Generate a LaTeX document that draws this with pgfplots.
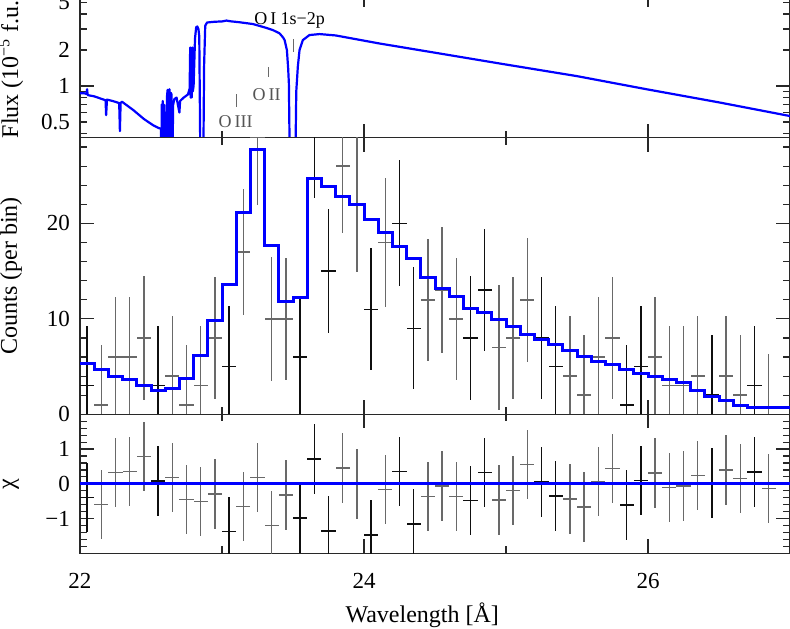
\documentclass[border=0pt]{standalone}
\usepackage{pgfplots}
\usepackage{pgfplotstable}
\pgfplotsset{compat=1.18}
\usepackage{fontspec}
\setmainfont{Liberation Serif}
\usetikzlibrary{calc}

\definecolor{errgray}{RGB}{105,105,105}
\definecolor{errblack}{RGB}{15,15,15}
\definecolor{axisdark}{RGB}{40,40,40}
\definecolor{annogray}{RGB}{85,85,85}

\pgfplotsset{
  panel/.style={
    scale only axis, width=355pt, xmin=22, xmax=27,
    xtick={22,24,26}, minor xtick={23,25}, xticklabels={},
    major tick length=7pt, minor tick length=3.5pt,
    tick style={axisdark, line width=0.6pt},
    axis line style={axisdark, line width=0.75pt},
    tick label style={font=\fontsize{11.5}{13}\selectfont},
    yticklabel style={anchor=east, xshift=-1.5pt},
    every axis y label/.style={at={(axis description cs:-0.0972,0.5)}, rotate=90, anchor=center,
      font=\fontsize{12}{14}\selectfont},
  },
  databars/.style={only marks, mark=*, mark size=0pt, mark options={draw=none, fill=none},
    error bars/.cd, x dir=both, x fixed=0.05, y dir=both, y explicit,
    error mark=none, error bar style={line width=0.75pt, #1}},
}

% counts per bin: x, counts, error
\pgfplotstableread{
x     y     e
22.05 3     6.3
22.55 3     6.3
23.05 5     6.3
23.55 6     6.3
23.65 29.7  7.0
23.75 15    6.5
24.05 11    6.4
24.25 20    6.6
24.35 9     6.4
24.75 8     6.5
24.85 13    6.4
25.25 8     6.4
25.35 5     6.3
25.85 1     6.3
25.95 5     6.3
26.45 2     6.3
26.75 3     6.3
}\cntblack
\pgfplotstableread{
x     y     e
22.15 1     6.3
22.25 6     6.3
22.35 6     6.3
22.45 8     6.5
22.65 4     6.3
22.75 1     6.3
22.85 3     6.3
22.95 8     6.4
23.15 17    6.6
23.25 29.0  7.1
23.35 10    6.5
23.45 10    6.4
23.85 26    7.0
23.95 22    7.1
24.15 18    6.8
24.45 12    6.4
24.55 13    6.6
24.65 10    6.4
24.95 7     6.5
25.05 8     6.4
25.15 12    6.5
25.45 4     6.3
25.55 2     6.3
25.65 6     6.3
25.75 8     6.4
26.05 6     6.3
26.15 3     6.3
26.25 3     6.3
26.35 4     6.3
26.55 4     6.3
26.65 2     6.3
26.85 0     6.3
}\cntgray
% model counts, left bin edges
\pgfplotstableread{
x     y
22.0  5.35
22.1  4.65
22.2  4.0
22.3  3.64
22.4  2.97
22.5  2.45
22.6  2.73
22.7  3.78
22.8  6.19
22.9  9.8
23.0  13.6
23.1  21.15
23.2  27.7
23.3  17.65
23.4  11.8
23.5  12.2
23.6  24.7
23.7  23.9
23.8  22.8
23.9  22.0
24.0  20.45
24.1  19.0
24.2  17.6
24.3  16.3
24.4  14.3
24.5  13.2
24.6  12.3
24.7  11.05
24.8  10.66
24.9  9.97
25.0  9.16
25.1  8.4
25.2  7.8
25.3  7.27
25.4  6.64
25.5  6.1
25.6  5.5
25.7  5.17
25.8  4.72
25.9  4.27
26.0  4.0
26.1  3.67
26.2  3.36
26.3  2.45
26.4  1.82
26.5  1.4
26.6  0.91
26.7  0.73
26.8  0.73
26.9  0.73
27.0  0.73
}\model
% residuals, error 1
\pgfplotstableread{
x     y      e
22.05 -0.39  1
22.55 0.08   1
23.05 -1.37  1
23.55 -0.99  1
23.65 0.71   1
23.75 -1.36  1
24.05 -1.48  1
24.25 0.36   1
24.35 -1.16  1
24.75 -0.48  1
24.85 0.33   1
25.25 0.05   1
25.35 -0.35  1
25.85 -0.61  1
25.95 0.10   1
26.45 0.02   1
26.75 0.34   1
}\chiblack
\pgfplotstableread{
x     y      e
22.15 -0.59  1
22.25 0.32   1
22.35 0.36   1
22.45 0.78   1
22.65 0.18   1
22.75 -0.45  1
22.85 -0.51  1
22.95 -0.29  1
23.15 -0.65  1
23.25 0.18   1
23.35 -1.2   1
23.45 -0.32  1
23.85 0.45   1
23.95 0.0    1
24.15 -0.16  1
24.45 -0.36  1
24.55 -0.07  1
24.65 -0.36  1
24.95 -0.47  1
25.05 -0.19  1
25.15 0.55   1
25.45 -0.43  1
25.55 -0.66  1
25.65 0.07   1
25.75 0.44   1
26.05 0.31   1
26.15 -0.11  1
26.25 -0.07  1
26.35 0.24   1
26.55 0.40   1
26.65 0.16   1
26.85 -0.13  1
}\chigray
% unfolded model flux
\pgfplotstableread{
x      y
22.000 0.87
22.030 0.87
22.045 0.86
22.050 0.94
22.054 0.84
22.100 0.82
22.160 0.775
22.180 0.76
22.184 0.57
22.190 0.77
22.230 0.75
22.276 0.72
22.281 0.42
22.286 0.72
22.295 0.74
22.375 0.63
22.450 0.53
22.515 0.47
22.555 0.445
22.570 0.44
22.573 0.2
22.576 0.70
22.579 0.2
22.583 0.75
22.587 0.2
22.591 0.70
22.595 0.2
22.600 0.60
22.604 0.45
22.608 0.2
22.612 0.80
22.617 0.93
22.620 0.2
22.625 0.90
22.630 0.94
22.633 0.2
22.638 0.88
22.645 0.85
22.650 0.2
22.656 0.70
22.665 0.78
22.680 0.80
22.700 0.60
22.705 0.75
22.730 0.80
22.760 0.85
22.772 0.95
22.776 2.1
22.779 0.8
22.784 2.0
22.787 0.8
22.790 2.1
22.794 0.9
22.800 1.0
22.810 2.5
22.818 3.1
22.826 3.15
22.834 3.0
22.840 2.6
22.848 0.2
22.868 0.2
22.874 1.5
22.882 3.2
22.895 3.40
22.950 3.45
23.000 3.47
23.031 3.53
23.060 3.48
23.120 3.42
23.218 3.30
23.310 3.07
23.358 2.94
23.405 2.76
23.430 2.55
23.441 2.42
23.457 2.0
23.466 1.4
23.471 1.05
23.478 0.2
23.516 0.2
23.523 0.9
23.534 1.45
23.546 2.0
23.569 2.42
23.616 2.67
23.687 2.72
23.800 2.65
24.108 2.27
24.500 1.90
24.990 1.52
25.500 1.21
25.990 0.94
26.500 0.73
27.000 0.561
}\flux

\begin{document}
\begin{tikzpicture}
\begin{axis}[panel, name=top, height=72.25pt,
  ymode=log, ymin=0.3711, ymax=6.0,
  ytick={1}, yticklabels={1},
  extra y ticks={0.5,2,5}, extra y tick labels={0.5,2,5},
  extra y tick style={major tick length=3.5pt},
  minor ytick={0.4,0.6,0.7,0.8,0.9,3,4,6},
  ylabel={Flux (10\textsuperscript{−5} f.u.)}]
  \addplot[blue, line width=1.1pt, line join=round] table {\flux};
  \node[font=\fontsize{9}{10}\selectfont] at (axis cs:23.476,3.56) {O\,I 1s−2p};
  \draw[errgray, line width=0.5pt] (axis cs:23.504,2.47) -- (axis cs:23.504,1.92);
  \node[font=\fontsize{9}{10}\selectfont, text=annogray] at (axis cs:23.314,0.841) {O\,II};
  \draw[errgray, line width=0.5pt] (axis cs:23.328,1.44) -- (axis cs:23.328,1.19);
  \node[font=\fontsize{9}{10}\selectfont, text=annogray] at (axis cs:23.096,0.5) {O\,III};
  \draw[errgray, line width=0.5pt] (axis cs:23.103,0.857) -- (axis cs:23.103,0.667);
  \coordinate (tBL) at (rel axis cs:0,0);
  \coordinate (tTR) at (rel axis cs:1,1);
\end{axis}
\begin{axis}[panel, name=mid, at={(tBL)}, anchor=north west, height=138.4pt,
  ymin=0, ymax=29, ytick={0,10,20}, yticklabels={0,10,20},
  minor ytick={2,4,6,8,12,14,16,18,22,24,26,28},
  ylabel={Counts (per bin)}]
  \addplot[databars={errgray}] table[x=x, y=y, y error=e] {\cntgray};
  \addplot[databars={errblack}] table[x=x, y=y, y error=e] {\cntblack};
  \addplot[blue, line width=1.5pt, const plot] table {\model};
  \coordinate (mBL) at (rel axis cs:0,0);
\end{axis}
\begin{axis}[panel, name=bot, at={(mBL)}, anchor=north west, height=69.5pt,
  ymin=-2, ymax=2, ytick={-1,0,1}, yticklabels={−1,0,1},
  minor ytick={-1.8,-1.6,-1.4,-1.2,-0.8,-0.6,-0.4,-0.2,0.2,0.4,0.6,0.8,1.2,1.4,1.6,1.8},
  xticklabels={22,24,26},
  xticklabel style={anchor=base, yshift=-17.5pt},
  xlabel={Wavelength [Å]},
  xlabel style={at={(axis description cs:0.482,0)}, anchor=base, yshift=-34.5pt,
    font=\fontsize{12}{14}\selectfont},
  ylabel={χ}]
  \addplot[databars={errgray}] table[x=x, y=y, y error=e] {\chigray};
  \addplot[databars={errblack}] table[x=x, y=y, y error=e] {\chiblack};
  \addplot[blue, line width=1.5pt] coordinates {(22,0) (27,0)};
  \coordinate (bBL) at (rel axis cs:0,0);
\end{axis}
\pgfresetboundingbox
\path[use as bounding box] ($(bBL)+(-40pt,-37.35pt)$) rectangle ($(tTR)+(0,-3.5pt)$);
\end{tikzpicture}
\end{document}
